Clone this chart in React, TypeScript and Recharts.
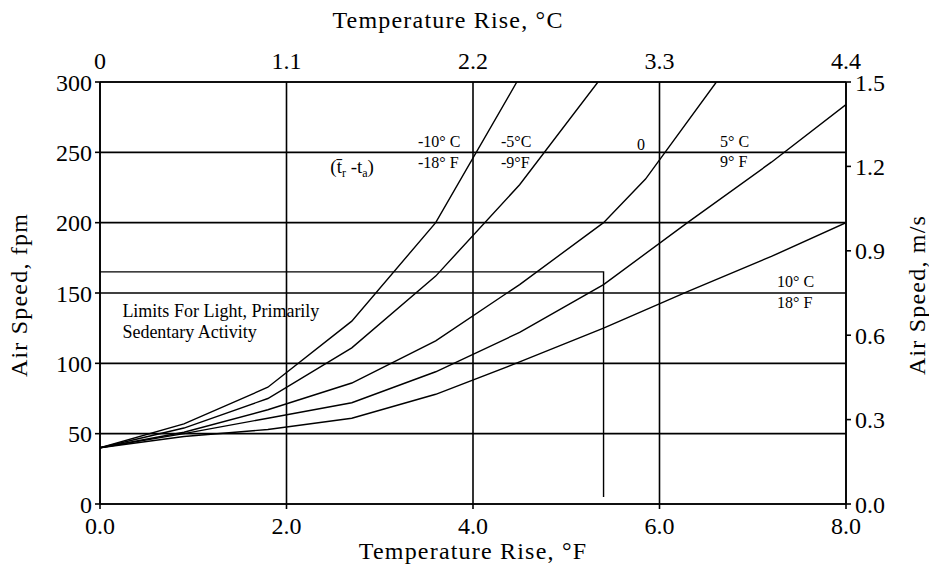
import { LineChart, Line, XAxis, YAxis, CartesianGrid, ReferenceDot } from "recharts";

const SERIF = "'Liberation Serif', 'Times New Roman', serif";

// axis ticks
const fTicks = [0, 2, 4, 6, 8];
const cTickLabels = ["0", "1.1", "2.2", "3.3", "4.4"]; // same gridlines, in °C
const fpmTicks = [0, 50, 100, 150, 200, 250, 300];
const msTicks = [0, 0.3, 0.6, 0.9, 1.2, 1.5];

// temperature rise (°F) vs air speed (fpm), one pair per (tr - ta) curve
const minus10F = [0, 0.9, 1.8, 2.7, 3.6, 4.47];
const minus10Fpm = [40, 57, 83, 130, 200, 300];
const minus5F = [0, 0.9, 1.8, 2.7, 3.6, 4.5, 5.34];
const minus5Fpm = [40, 54, 75, 111, 162, 227, 300];
const zeroF = [0, 0.9, 1.8, 2.7, 3.6, 4.5, 5.4, 5.85, 6.61];
const zeroFpm = [40, 51, 67, 86, 116, 156, 200, 231, 300];
const plus5F = [0, 0.9, 1.8, 2.7, 3.6, 4.5, 5.4, 6.3, 7.2, 8];
const plus5Fpm = [40, 50, 61, 72, 94, 122, 156, 200, 243, 284];
const plus10F = [0, 0.9, 1.8, 2.7, 3.6, 4.5, 5.4, 6.3, 7.2, 8];
const plus10Fpm = [40, 48, 53, 61, 78, 101, 125, 151, 176, 200];

// limits for light, primarily sedentary activity
const limitF = [0, 5.4, 5.4];
const limitFpm = [165, 165, 5];

const zip = (xs: number[], ys: number[]) => xs.map((x, i) => ({ x, y: ys[i] }));

const series = [
  zip(minus10F, minus10Fpm),
  zip(minus5F, minus5Fpm),
  zip(zeroF, zeroFpm),
  zip(plus5F, plus5Fpm),
  zip(plus10F, plus10Fpm),
  zip(limitF, limitFpm),
];

// text annotations, anchored at (°F, fpm) — left edge / baseline
const notes = [
  { x: 3.41, y: 253.8, text: "-10° C", size: 16 },
  { x: 3.41, y: 238.9, text: "-18° F", size: 16 },
  { x: 4.3, y: 253.8, text: "-5°C", size: 16 },
  { x: 4.3, y: 238.9, text: "-9°F", size: 16 },
  { x: 5.76, y: 251.7, text: "0", size: 16 },
  { x: 6.65, y: 254.1, text: "5° C", size: 16 },
  { x: 6.65, y: 239.9, text: "9° F", size: 16 },
  { x: 7.26, y: 154.3, text: "10° C", size: 16 },
  { x: 7.26, y: 139.3, text: "18° F", size: 16 },
  { x: 0.24, y: 132.9, text: "Limits For Light,  Primarily", size: 18 },
  { x: 0.24, y: 118, text: "Sedentary Activity", size: 18 },
];

const noteLabel = (text: string, size: number) => (props: any) => {
  const { x, y } = props.viewBox;
  return (
    <text x={x} y={y} fontSize={size} fill="#000" fontFamily={SERIF}>
      {text}
    </text>
  );
};

const deltaLabel = (props: any) => {
  const { x, y } = props.viewBox;
  return (
    <text x={x} y={y} fontSize={19} fill="#000" fontFamily={SERIF}>
      (t{"\u0304"}
      <tspan dy={4} fontSize={12}>r</tspan>
      <tspan dy={-4}> -t</tspan>
      <tspan dy={4} fontSize={12}>a</tspan>
      <tspan dy={-4}>)</tspan>
    </text>
  );
};

const titleStyle = { fontSize: 24, fill: "#000", fontFamily: SERIF, letterSpacing: 1.2 };

const bottomTitle = (props: any) => {
  const vb = props.viewBox;
  return (
    <text x={vb.x + vb.width / 2} y={vb.y + 55} textAnchor="middle" {...titleStyle}>
      Temperature Rise, °F
    </text>
  );
};

const topTitle = (props: any) => {
  const vb = props.viewBox;
  return (
    <text x={vb.x + vb.width / 2 - 25} y={vb.y + 28} textAnchor="middle" {...titleStyle}>
      Temperature Rise, °C
    </text>
  );
};

const leftTitle = (props: any) => {
  const vb = props.viewBox;
  const x = vb.x + 27;
  const y = vb.y + vb.height / 2 + 2;
  return (
    <text x={x} y={y} textAnchor="middle" transform={`rotate(-90, ${x}, ${y})`} {...titleStyle}>
      Air Speed, fpm
    </text>
  );
};

const rightTitle = (props: any) => {
  const vb = props.viewBox;
  const x = vb.x + 79;
  const y = vb.y + vb.height / 2 + 2;
  return (
    <text x={x} y={y} textAnchor="middle" transform={`rotate(-90, ${x}, ${y})`} {...titleStyle}>
      Air Speed, m/s
    </text>
  );
};

const axisStroke = { stroke: "#000", strokeWidth: 1.6 };
const tickStyle = { fontSize: 24, fill: "#000", fontFamily: SERIF };

export default function App() {
  return (
    <div style={{ position: "absolute", left: 0, top: 0, width: 929, height: 570, background: "#fff" }}>
      <LineChart
        width={929}
        height={570}
        margin={{ top: 0, right: 0, bottom: 0, left: 0 }}
        style={{ fontFamily: SERIF }}
      >
        <CartesianGrid xAxisId="f" yAxisId="fpm" stroke="#000" strokeWidth={1.6} />
        <XAxis
          xAxisId="f"
          type="number"
          dataKey="x"
          domain={[0, 8]}
          ticks={fTicks}
          interval={0}
          allowDataOverflow
          height={66}
          tickSize={5}
          tickMargin={8}
          axisLine={axisStroke}
          tickLine={axisStroke}
          tick={tickStyle}
          tickFormatter={(v) => Number(v).toFixed(1)}
          label={{ content: bottomTitle }}
        />
        <XAxis
          xAxisId="top"
          orientation="top"
          type="number"
          dataKey="x"
          domain={[0, 8]}
          ticks={fTicks}
          interval={0}
          allowDataOverflow
          height={82}
          tickSize={5}
          tickMargin={8}
          axisLine={axisStroke}
          tickLine={false}
          tick={tickStyle}
          tickFormatter={(_v, i) => cTickLabels[i]}
          label={{ content: topTitle }}
        />
        <YAxis
          yAxisId="fpm"
          type="number"
          domain={[0, 300]}
          ticks={fpmTicks}
          interval={0}
          allowDataOverflow
          width={100}
          tickSize={5}
          tickMargin={3}
          axisLine={axisStroke}
          tickLine={axisStroke}
          tick={tickStyle}
          label={{ content: leftTitle }}
        />
        <YAxis
          yAxisId="ms"
          orientation="right"
          type="number"
          domain={[0, 1.5]}
          ticks={msTicks}
          interval={0}
          allowDataOverflow
          width={83}
          tickSize={5}
          tickMargin={4}
          axisLine={axisStroke}
          tickLine={axisStroke}
          tick={tickStyle}
          tickFormatter={(v) => Number(v).toFixed(1)}
          label={{ content: rightTitle }}
        />
        {series.map((data, i) => (
          <Line
            key={i}
            xAxisId="f"
            yAxisId="fpm"
            data={data}
            dataKey="y"
            type="linear"
            stroke="#000"
            strokeWidth={1.4}
            dot={false}
            activeDot={false}
            isAnimationActive={false}
          />
        ))}
        {notes.map((n, i) => (
          <ReferenceDot
            key={`n${i}`}
            xAxisId="f"
            yAxisId="fpm"
            x={n.x}
            y={n.y}
            r={0}
            fill="none"
            stroke="none"
            ifOverflow="visible"
            label={noteLabel(n.text, n.size)}
          />
        ))}
        <ReferenceDot
          xAxisId="f"
          yAxisId="fpm"
          x={2.47}
          y={235.3}
          r={0}
          fill="none"
          stroke="none"
          ifOverflow="visible"
          label={deltaLabel}
        />
      </LineChart>
    </div>
  );
}
